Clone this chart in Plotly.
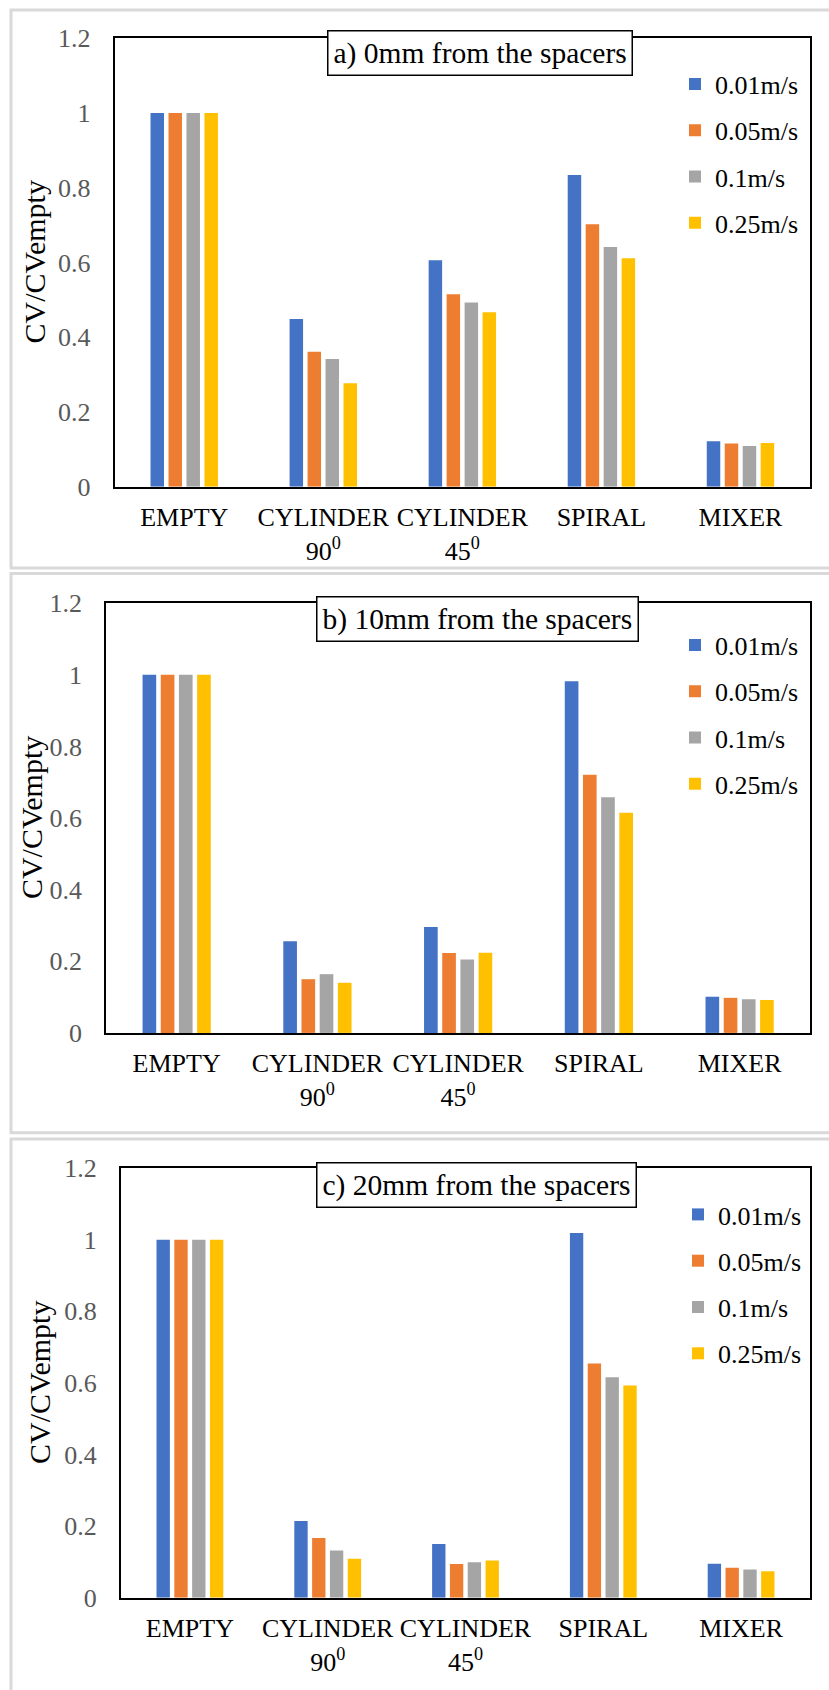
import plotly.graph_objects as go

W, H = 829, 1690

categories = ["EMPTY", "CYLINDER<br>90<sup>0</sup>", "CYLINDER<br>45<sup>0</sup>", "SPIRAL", "MIXER"]
series_names = ["0.01m/s", "0.05m/s", "0.1m/s", "0.25m/s"]
colors = ["#4472C4", "#ED7D31", "#A5A5A5", "#FFC000"]

# panel a) 0mm from the spacers
a_001 = [1, 0.449, 0.606, 0.834, 0.122]
a_005 = [1, 0.361, 0.515, 0.702, 0.116]
a_01 = [1, 0.342, 0.493, 0.641, 0.109]
a_025 = [1, 0.277, 0.467, 0.611, 0.117]

# panel b) 10mm from the spacers
b_001 = [1, 0.256, 0.296, 0.982, 0.101]
b_005 = [1, 0.150, 0.223, 0.721, 0.098]
b_01 = [1, 0.164, 0.205, 0.658, 0.094]
b_025 = [1, 0.140, 0.224, 0.615, 0.092]

# panel c) 20mm from the spacers
c_001 = [1, 0.214, 0.150, 1.019, 0.095]
c_005 = [1, 0.167, 0.094, 0.654, 0.084]
c_01 = [1, 0.132, 0.099, 0.616, 0.079]
c_025 = [1, 0.109, 0.104, 0.593, 0.074]

titles = ["a) 0mm from the spacers", "b) 10mm from the spacers", "c) 20mm from the spacers"]
y_title = "CV/CVempty"
y_tickvals = [0, 0.2, 0.4, 0.6, 0.8, 1, 1.2]
y_ticktext = ["0", "0.2", "0.4", "0.6", "0.8", "1", "1.2"]

FONT = "Liberation Serif"

# layout geometry (pixels)
panels = [
    dict(data=[a_001, a_005, a_01, a_025], px=(114.7, 810), py=(38.1, 486.8),
         box=(10, 568), title_c=(480, 53.5), leg=(689, 60.5), ytitle_x=34),
    dict(data=[b_001, b_005, b_01, b_025], px=(106.3, 810), py=(603.2, 1032.9),
         box=(573.5, 1132.7), title_c=(477, 619), leg=(689, 621.5), ytitle_x=31),
    dict(data=[c_001, c_005, c_01, c_025], px=(121, 810), py=(1168.2, 1597.7),
         box=(1139, 1700), title_c=(476, 1185), leg=(692, 1191), ytitle_x=40),
]

def fx(p):
    return p / W

def fy(p):
    return 1 - p / H

fig = go.Figure()
layout = dict(
    template="none",
    width=W, height=H,
    margin=dict(l=0, r=0, t=0, b=0, autoexpand=False),
    paper_bgcolor="white", plot_bgcolor="white",
    barmode="group", bargap=0.483, bargroupgap=0.25,
    font=dict(family=FONT, color="black"),
    shapes=[], annotations=[],
)

for i, p in enumerate(panels):
    n = "" if i == 0 else str(i + 1)
    legname = "legend" + n
    for j, vals in enumerate(p["data"]):
        fig.add_trace(go.Bar(
            x=categories, y=vals, name=series_names[j],
            marker=dict(color=colors[j], line=dict(width=0)),
            xaxis="x" + n, yaxis="y" + n,
            legend=legname, legendgroup=f"g{i}{j}",
        ))
    layout["xaxis" + n] = dict(
        domain=[fx(p["px"][0]), fx(p["px"][1])], anchor="y" + n,
        automargin=False,
        showline=True, mirror=True, linecolor="black", linewidth=2,
        showgrid=False, zeroline=False, ticks="", ticklabelstandoff=6,
        tickfont=dict(size=26, color="black", family=FONT),
    )
    layout["yaxis" + n] = dict(
        domain=[fy(p["py"][1]), fy(p["py"][0])], anchor="x" + n,
        automargin=False,
        range=[0, 1.2], showline=True, mirror=True, linecolor="black", linewidth=2,
        showgrid=False, zeroline=False, ticks="",
        tickvals=y_tickvals, ticktext=y_ticktext, ticklabelstandoff=17,
        tickfont=dict(size=26, color="#595959", family=FONT),
    )
    layout[legname] = dict(
        x=fx(p["leg"][0] - 14), y=fy(p["leg"][1]), xanchor="left", yanchor="top",
        bgcolor="rgba(0,0,0,0)", borderwidth=0,
        font=dict(size=26, color="black", family=FONT),
        traceorder="grouped", tracegroupgap=9.5, itemwidth=30,
    )
    # outer panel frame
    layout["shapes"].append(dict(
        type="rect", xref="paper", yref="paper",
        x0=fx(11), x1=fx(W + 20), y0=fy(p["box"][1]), y1=fy(p["box"][0]),
        line=dict(color="#D9D9D9", width=3), fillcolor="rgba(0,0,0,0)", layer="below",
    ))
    # panel title box
    layout["annotations"].append(dict(
        text=titles[i], xref="paper", yref="paper",
        x=fx(p["title_c"][0]), y=fy(p["title_c"][1]), xanchor="center", yanchor="middle",
        showarrow=False, font=dict(size=29.5, color="black", family=FONT),
        bgcolor="white", bordercolor="black", borderwidth=1.5, borderpad=5,
    ))
    # y-axis title
    layout["annotations"].append(dict(
        text=y_title, xref="paper", yref="paper", textangle=-90,
        x=fx(p["ytitle_x"]), y=fy((p["py"][0] + p["py"][1]) / 2),
        xanchor="center", yanchor="middle", showarrow=False,
        font=dict(size=30, color="black", family=FONT),
    ))

fig.update_layout(**layout)
fig.write_html("out.html")
